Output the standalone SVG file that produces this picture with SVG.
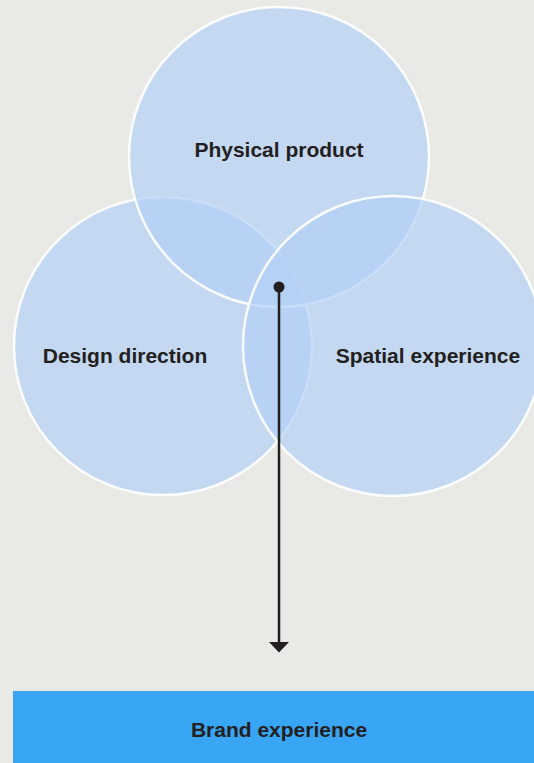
<svg xmlns="http://www.w3.org/2000/svg" width="534" height="763" viewBox="0 0 534 763">
<style>
.c{fill:#b3d0f7;fill-opacity:0.7;stroke:#ffffff;stroke-width:2.5;stroke-opacity:0.9}
.t{font-family:"Liberation Sans",Arial,sans-serif;font-weight:bold;font-size:21px;fill:#231f20;text-anchor:middle}
</style>
<rect width="534" height="763" fill="#e9eae6"/>
<g id="design-direction">
<circle class="c" cx="163" cy="346" r="149"/>
<text class="t" x="125" y="363">Design direction</text>
</g>
<g id="physical-product">
<circle class="c" cx="279" cy="157" r="150"/>
<text class="t" x="279" y="157">Physical product</text>
</g>
<g id="spatial-experience">
<circle class="c" cx="393" cy="346" r="150"/>
<text class="t" x="428" y="363">Spatial experience</text>
</g>
<g id="connectors">
<circle cx="279" cy="287" r="5.5" fill="#231f20"/>
<line x1="279" y1="287" x2="279" y2="643" stroke="#231f20" stroke-width="2.5"/>
<polygon points="269,642 289,642 279,652.5" fill="#231f20"/>
</g>
<g id="brand-experience">
<rect x="13" y="691" width="521" height="72" fill="#39a5f5"/>
<text class="t" x="279" y="737">Brand experience</text>
</g>
</svg>
